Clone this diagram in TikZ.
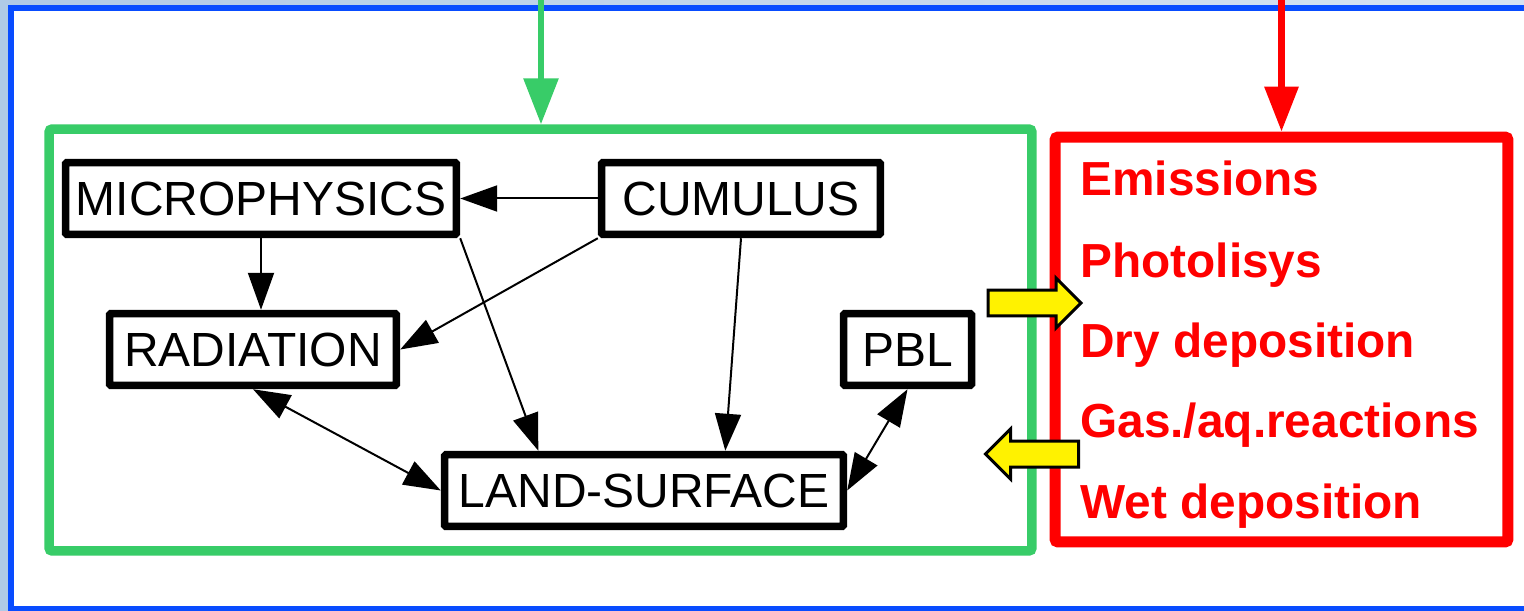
\documentclass[tikz,border=0pt]{standalone}
\usepackage{fontspec}
\setmainfont{Liberation Sans}
\usepackage{xcolor}
\usetikzlibrary{calc, arrows.meta, positioning, shapes.arrows}

\definecolor{frameblue}{RGB}{8,76,255}
\definecolor{modelgreen}{RGB}{56,204,104}
\definecolor{chemred}{RGB}{255,0,0}
\definecolor{bgleft}{RGB}{176,202,230}
\definecolor{bgright}{RGB}{214,226,242}

\begin{document}
\begin{tikzpicture}[
    x=0.02cm, y=-0.02cm,
    every node/.style={font=\fontsize{27.3}{30}\selectfont},
    module/.style={draw, line width=0.15cm, minimum height=1.44cm,
                   inner sep=0pt, rounded corners=0.03cm},
    link/.style={line width=0.04cm, -{Triangle[length=0.74cm, width=0.52cm]}},
    twolink/.style={line width=0.04cm,
                    {Triangle[length=0.74cm, width=0.52cm]}-{Triangle[length=0.74cm, width=0.52cm]}},
    process/.style={anchor=base west, text=chemred, inner sep=0pt,
                    font=\fontsize{27.2}{30}\selectfont\bfseries},
    exchange/.style={single arrow, draw, line width=0.06cm, fill=yellow,
                     inner xsep=0pt, inner ysep=0.23cm,
                     minimum width=0.94cm, minimum height=1.86cm,
                     single arrow head extend=0.24cm},
]
  \clip (0,0) rectangle (1524,611);
  \fill[left color=bgleft, right color=bgright] (0,0) rectangle (1524,611);
  \draw[frameblue, line width=0.12cm, fill=white] (11,8) rectangle (1545,609);

  \node[draw=modelgreen, line width=0.19cm, minimum width=19.66cm,
        minimum height=8.44cm, rounded corners=0.06cm] (model) at (540.5,340) {};
  \node[draw=chemred, line width=0.22cm, minimum width=9.06cm,
        minimum height=8.1cm, rounded corners=0.06cm] (chem) at (1281.5,339.5) {};

  \coordinate (modelin) at (541,0);
  \coordinate (chemin) at (1281.5,0);
  \draw[modelgreen, line width=0.12cm, -{Triangle[length=0.92cm, width=0.68cm]}]
        (modelin) -- (modelin |- model.north);
  \draw[chemred, line width=0.13cm, -{Triangle[length=0.9cm, width=0.66cm]}]
        (chemin) -- (chem.north);

  \node[module, minimum width=7.82cm] (micro) at (261,198.5) {MICROPHYSICS};
  \node[module, minimum width=5.58cm] (cumulus) at (741,198.5) {CUMULUS};
  \node[module, minimum width=5.74cm] (radiation) at (253,349.5) {RADIATION};
  \node[module, minimum width=2.56cm] (pbl) at (907.5,349.5) {PBL};
  \node[module, minimum width=7.98cm] (land) at (644,490.5) {LAND-SURFACE};

  \draw[link] (cumulus.west) -- (micro.east);
  \draw[link] (micro.south) -- (micro.south |- radiation.north);
  \draw[link] (cumulus.south west) -- (radiation.east);
  \draw[link] (micro.south east) -- ($(land.north west)!0.24!(land.north east)$);
  \draw[link] (cumulus.south) -- ($(land.north west)!0.7!(land.north east)$);
  \draw[twolink] (radiation.south) -- (land.west);
  \draw[twolink] (pbl.south) -- (land.east);

  \node[exchange] (toChem) at (1028,303) {};
  \node[exchange, shape border rotate=180] (toModel) at (1038.5,454) {};

  \node[process] (emis) at (1080,195) {Emissions};
  \node[process] (photo) at (1080,277) {Photolisys};
  \node[process] (drydep) at (1080,357) {Dry deposition};
  \node[process] (react) at (1080,437) {Gas./aq.reactions};
  \node[process] (wetdep) at (1080,518) {Wet deposition};
\end{tikzpicture}
\end{document}
